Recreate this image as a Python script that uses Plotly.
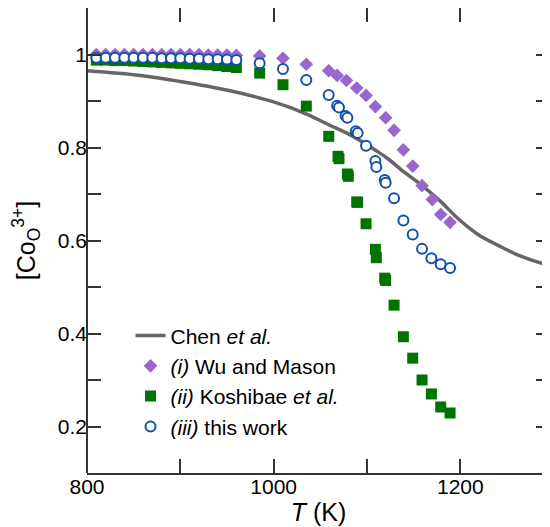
import plotly.graph_objects as go

# Chen et al. (line)
chen_T = [800, 857, 900, 951, 1000, 1034, 1059, 1083, 1110, 1121, 1140, 1159, 1180, 1196, 1219, 1241, 1264, 1297]
chen_v = [0.965, 0.955, 0.942, 0.923, 0.898, 0.873, 0.849, 0.826, 0.793, 0.778, 0.747, 0.718, 0.682, 0.650, 0.613, 0.589, 0.567, 0.545]

# (i) Wu and Mason
wu_T = [810, 820, 830, 840, 850, 860, 870, 880, 890, 900, 910, 920, 930, 940, 950, 960,
        985, 1010, 1035, 1059, 1068, 1078, 1089, 1099, 1109, 1120, 1129, 1139, 1149, 1159, 1170, 1179, 1189]
wu_v = [1.0, 1.0, 1.0, 1.0, 1.0, 1.0, 1.0, 1.0, 1.0, 1.0, 1.0, 1.0, 0.999, 0.999, 0.999, 0.998,
        0.997, 0.992, 0.979, 0.965, 0.955, 0.944, 0.928, 0.912, 0.888, 0.864, 0.837, 0.795, 0.760, 0.718, 0.688, 0.656, 0.639]

# (ii) Koshibae et al.
ko_T = [810, 820, 830, 840, 850, 860, 870, 880, 890, 900, 910, 920, 930, 940, 950, 960,
        985, 1010, 1035, 1059, 1069, 1070, 1079, 1080, 1089, 1090, 1099, 1109, 1110, 1119, 1120, 1129, 1139, 1149, 1159, 1169, 1179, 1189]
ko_v = [0.988, 0.988, 0.987, 0.987, 0.986, 0.985, 0.984, 0.983, 0.982, 0.981, 0.980, 0.979, 0.978, 0.976, 0.974, 0.972,
        0.960, 0.935, 0.889, 0.824, 0.781, 0.776, 0.743, 0.738, 0.683, 0.682, 0.636, 0.581, 0.563, 0.519, 0.514, 0.461, 0.393, 0.347, 0.300, 0.270, 0.242, 0.229]

# (iii) this work
tw_T = [810, 820, 830, 840, 850, 860, 870, 880, 890, 900, 910, 920, 930, 940, 950, 960,
        985, 1010, 1035, 1059, 1068, 1070, 1077, 1079, 1088, 1090, 1099, 1109, 1110, 1119, 1120, 1129, 1139, 1149, 1159, 1169, 1179, 1189]
tw_v = [0.993, 0.993, 0.993, 0.993, 0.993, 0.993, 0.993, 0.992, 0.992, 0.992, 0.991, 0.991, 0.990, 0.990, 0.989, 0.988,
        0.981, 0.969, 0.945, 0.913, 0.890, 0.886, 0.868, 0.864, 0.835, 0.831, 0.804, 0.771, 0.758, 0.730, 0.724, 0.691, 0.643, 0.613, 0.582, 0.562, 0.549, 0.541]

x_tickvals = [800, 1000, 1200]
x_ticktext = ["800", "1000", "1200"]
x_minor = [900, 1100, 1300]
y_tickvals = [0.2, 0.4, 0.6, 0.8, 1.0]
y_ticktext = ["0.2", "0.4", "0.6", "0.8", "1"]
y_minor = [0.1, 0.3, 0.5, 0.7, 0.9, 1.1]

FONT = "Liberation Sans, Arial, sans-serif"
AX = "#333333"

fig = go.Figure()
fig.add_trace(go.Scatter(x=chen_T, y=chen_v, mode="lines", name="Chen <i>et al.</i>",
                         line=dict(color="#666666", width=3.5, shape="spline", smoothing=1.0)))
fig.add_trace(go.Scatter(x=wu_T, y=wu_v, mode="markers", name="<i>(i)</i> Wu and Mason",
                         marker=dict(symbol="diamond", size=10.5, color="#9966CC", line=dict(width=0))))
fig.add_trace(go.Scatter(x=ko_T, y=ko_v, mode="markers", name="<i>(ii)</i> Koshibae <i>et al.</i>",
                         marker=dict(symbol="square", size=11, color="#007300", line=dict(width=0))))
fig.add_trace(go.Scatter(x=tw_T, y=tw_v, mode="markers", name="<i>(iii)</i> this work",
                         marker=dict(symbol="circle", size=10, color="white", line=dict(width=2, color="#1450A8"))))

fig.update_layout(
    width=542, height=519,
    margin=dict(l=79, r=0, t=0, b=54, autoexpand=False),
    paper_bgcolor="white", plot_bgcolor="white",
    font=dict(family=FONT, size=21, color="black"),
    showlegend=True,
    legend=dict(x=0.094, y=0.339, xanchor="left", yanchor="top", bgcolor="rgba(0,0,0,0)",
                font=dict(size=21), traceorder="normal"),
    xaxis=dict(range=[800, 1296.1], tickmode="array", tickvals=x_tickvals, ticktext=x_ticktext,
               ticks="inside", ticklen=14, tickwidth=1.5, tickcolor=AX, ticklabelstandoff=-6,
               minor=dict(tickmode="array", tickvals=x_minor, ticks="inside",
                          ticklen=14, tickwidth=1.5, tickcolor=AX),
               showline=True, linecolor=AX, linewidth=2, mirror="ticks",
               showgrid=False, zeroline=False, automargin=False,
               title=dict(text="<i>T</i> (K)", standoff=3)),
    yaxis=dict(range=[0.1, 1.1], tickmode="array", tickvals=y_tickvals, ticktext=y_ticktext,
               ticks="inside", ticklen=14, tickwidth=1.5, tickcolor=AX, ticklabelstandoff=-1,
               minor=dict(tickmode="array", tickvals=y_minor, ticks="inside",
                          ticklen=14, tickwidth=1.5, tickcolor=AX),
               showline=False, mirror="ticks",
               showgrid=False, zeroline=False, automargin=False,
               title=dict(text="[Co<sub>O</sub><sup>3+</sup>]", standoff=15)),
)
fig.add_shape(type="line", xref="paper", yref="paper", x0=0, x1=0, y0=0, y1=1,
              line=dict(color=AX, width=2))

fig.write_html("out.html")
